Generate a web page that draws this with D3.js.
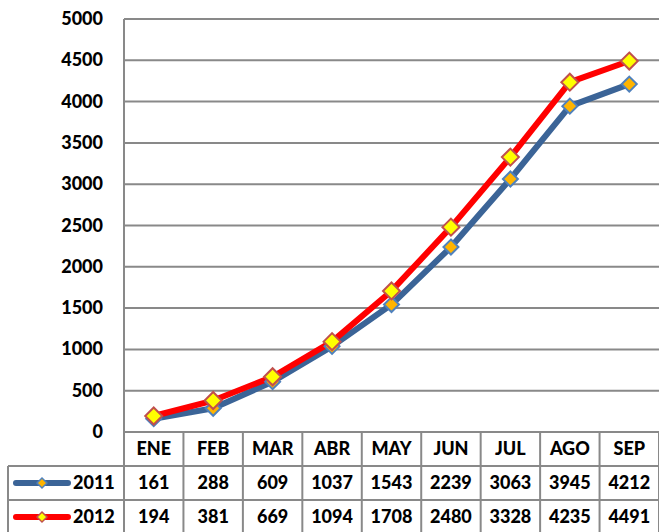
<html>
<head>
<script src="https://cdn.jsdelivr.net/npm/d3@7"></script>
<style>
  body { margin: 0; background: #fff; }
  svg text { font-family: Lato, 'Open Sans', sans-serif; font-weight: 900; fill: #000; }
</style>
</head>
<body>
<svg id="chart" width="659" height="532"></svg>
<script>
var months = ['ENE', 'FEB', 'MAR', 'ABR', 'MAY', 'JUN', 'JUL', 'AGO', 'SEP'];
var values2011 = [161, 288, 609, 1037, 1543, 2239, 3063, 3945, 4212];
var values2012 = [194, 381, 669, 1094, 1708, 2480, 3328, 4235, 4491];
var yTicks = [0, 500, 1000, 1500, 2000, 2500, 3000, 3500, 4000, 4500, 5000];

var series = [
  { name: '2011', values: values2011, line: '#3B6497', fill: '#FFB400', stroke: '#4F81BD', size: 15 },
  { name: '2012', values: values2012, line: '#FF0000', fill: '#FFFF00', stroke: '#C0504D', size: 17 }
];

var svg = d3.select('#chart');
var plotLeft = 124, plotRight = 659, plotTop = 19, plotBottom = 432;
var rowH = 34;
var gridColor = '#898989';

var x = d3.scaleBand().domain(months).range([plotLeft, plotRight]).padding(0);
var y = d3.scaleLinear().domain([0, 5000]).range([plotBottom, plotTop]);
var cx = function(i){ return x(months[i]) + x.bandwidth() / 2; };

// horizontal gridlines
svg.append('g').selectAll('line')
  .data(yTicks.filter(function(d){ return d > 0; }))
  .enter().append('line')
  .attr('x1', plotLeft).attr('x2', plotRight)
  .attr('y1', function(d){ return y(d); }).attr('y2', function(d){ return y(d); })
  .attr('stroke', gridColor).attr('stroke-width', 2);

// y labels
svg.append('g').selectAll('text')
  .data(yTicks).enter().append('text')
  .attr('x', 103).attr('y', function(d){ return y(d) + 6; })
  .attr('text-anchor', 'end').attr('font-size', 18)
  .text(function(d){ return d; });

// table grid
var tableBottom = plotBottom + rowH * 3 + 2;
var tg = svg.append('g').attr('stroke', gridColor).attr('stroke-width', 2);
tg.append('line').attr('x1', plotLeft).attr('x2', plotLeft).attr('y1', plotTop).attr('y2', tableBottom);
tg.append('line').attr('x1', plotLeft).attr('x2', plotRight).attr('y1', plotBottom).attr('y2', plotBottom);
[1, 2].forEach(function(r){
  tg.append('line').attr('x1', 8).attr('x2', plotRight)
    .attr('y1', plotBottom + rowH * r).attr('y2', plotBottom + rowH * r);
});
tg.append('line').attr('x1', 8).attr('x2', 8).attr('y1', plotBottom + rowH).attr('y2', tableBottom);
months.forEach(function(m){
  var xe = x(m) + x.bandwidth();
  tg.append('line').attr('x1', xe).attr('x2', xe).attr('y1', plotBottom).attr('y2', tableBottom);
});

// month header
svg.append('g').selectAll('text')
  .data(months).enter().append('text')
  .attr('x', function(d, i){ return cx(i); })
  .attr('y', plotBottom + 23)
  .attr('text-anchor', 'middle').attr('font-size', 18)
  .text(function(d){ return d; });

// lines and markers
var line = d3.line()
  .x(function(d, i){ return cx(i); })
  .y(function(d){ return y(d); });

var diamond = function(s){ return 'M0,' + (-s/2) + 'L' + (s/2) + ',0L0,' + (s/2) + 'L' + (-s/2) + ',0Z'; };

series.forEach(function(s){
  svg.append('path').datum(s.values)
    .attr('d', line).attr('fill', 'none')
    .attr('stroke', s.line).attr('stroke-width', 6).attr('stroke-linejoin', 'round');
});
series.forEach(function(s){
  svg.append('g').selectAll('path')
    .data(s.values).enter().append('path')
    .attr('transform', function(d, i){ return 'translate(' + cx(i) + ',' + y(d) + ')'; })
    .attr('d', diamond(s.size))
    .attr('fill', s.fill).attr('stroke', s.stroke).attr('stroke-width', 2);
});

// data rows with legend keys
series.forEach(function(s, r){
  var cy = plotBottom + rowH * (r + 1) + rowH / 2;
  svg.append('line').attr('x1', 16).attr('x2', 68).attr('y1', cy).attr('y2', cy)
    .attr('stroke', s.line).attr('stroke-width', 6).attr('stroke-linecap', 'round');
  svg.append('path').attr('transform', 'translate(42,' + cy + ')')
    .attr('d', diamond(10)).attr('fill', s.fill).attr('stroke', s.stroke).attr('stroke-width', 1.5);
  svg.append('text').attr('x', 73).attr('y', cy + 6).attr('font-size', 18).text(s.name);
  svg.append('g').selectAll('text')
    .data(s.values).enter().append('text')
    .attr('x', function(d, i){ return cx(i); })
    .attr('y', cy + 6)
    .attr('text-anchor', 'middle').attr('font-size', 18)
    .text(function(d){ return d; });
});
</script>
</body>
</html>
